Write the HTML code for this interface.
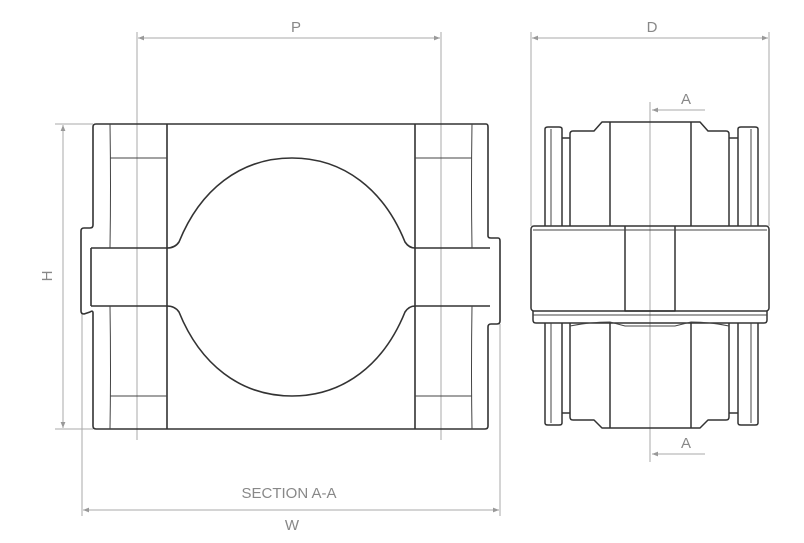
<!DOCTYPE html>
<html><head><style>html,body{margin:0;padding:0;background:#fff;width:804px;height:543px;overflow:hidden}</style></head>
<body>
<svg width="804" height="543" viewBox="0 0 804 543" xmlns="http://www.w3.org/2000/svg">
<defs>
<marker id="ar" viewBox="0 0 10 10" refX="10" refY="5" markerWidth="10" markerHeight="6" orient="auto-start-reverse" markerUnits="userSpaceOnUse"><path d="M0,1 L10,5 L0,9 z" fill="#999"/></marker>
</defs>
<g stroke="#aaa" stroke-width="1" fill="none">
<!-- P -->
<line x1="137" y1="32" x2="137" y2="440"/><line x1="441" y1="32" x2="441" y2="440"/>
<line x1="138" y1="38" x2="440" y2="38" marker-start="url(#ar)" marker-end="url(#ar)"/>
<!-- H -->
<line x1="55" y1="124" x2="93" y2="124"/><line x1="55" y1="429" x2="93" y2="429"/>
<line x1="63" y1="125" x2="63" y2="428" marker-start="url(#ar)" marker-end="url(#ar)"/>
<!-- W -->
<line x1="82" y1="314" x2="82" y2="516"/><line x1="500" y1="324" x2="500" y2="516"/>
<line x1="83" y1="510" x2="499" y2="510" marker-start="url(#ar)" marker-end="url(#ar)"/>
<!-- D -->
<line x1="531" y1="32" x2="531" y2="226"/><line x1="769" y1="32" x2="769" y2="226"/>
<line x1="532" y1="38" x2="768" y2="38" marker-start="url(#ar)" marker-end="url(#ar)"/>
<!-- center line -->
<line x1="650" y1="102" x2="650" y2="462"/>
<line x1="705" y1="110" x2="652" y2="110" marker-end="url(#ar)"/>
<line x1="705" y1="454" x2="652" y2="454" marker-end="url(#ar)"/>
</g>
<g font-family="Liberation Sans, sans-serif" fill="#888" font-size="15" text-anchor="middle">
<text x="296" y="32">P</text>
<text x="652" y="32">D</text>
<text x="289" y="498">SECTION A-A</text>
<text x="292" y="530">W</text>
<text x="686" y="104">A</text>
<text x="686" y="448">A</text>
<text transform="translate(52,276) rotate(-90)">H</text>
</g>
<g stroke="#333" stroke-width="1.6" fill="none" stroke-linejoin="round">
<!-- left view outline -->
<path d="M96,124 H486 Q488,124 488,127 V236 Q488,238 491,238 H498 Q500,238 500,241 V321 Q500,324 497,324 H491 Q488,324 488,327 V426 Q488,429 485,429 H96 Q93,429 93,426 V313 Q93,310 90,312 L84,314 Q81,314 81,311 V231 Q81,228 84,228 H90 Q93,228 93,225 V127 Q93,124 96,124 Z"/>
<path d="M91,248 H167 Q175,248 179,242 C200,190 240,158 292,158 C344,158 384,190 405,242 Q409,248 415,248 H490"/>
<path d="M91,306 H167 Q175,306 179,312 C200,364 240,396 292,396 C344,396 384,364 405,312 Q409,306 415,306 H490"/>
<path d="M91,248 V306"/>
<path d="M167,124 V429 M415,124 V429"/>
</g>
<g stroke="#444" stroke-width="1" fill="none">
<path d="M110,124 Q111,186 110,248 M110,306 Q111,368 110,429"/>
<path d="M472,124 Q471,186 472,248 M472,306 Q471,368 472,429"/>
<path d="M110,158 H167 M110,396 H167 M415,158 H472 M415,396 H472"/>
</g>
<!-- right view -->
<g stroke="#333" stroke-width="1.5" fill="none" stroke-linejoin="round">
<rect x="531" y="226" width="238" height="85" rx="3"/>
<path d="M533,311 V320 Q533,323 536,323 H764 Q767,323 767,320 V311"/>
<path d="M625,226 V311 H675 V226"/>
<!-- top body -->
<path d="M570,226 V134 Q570,131 573,131 H594 L602,122 H700 L708,131 H726 Q729,131 729,134 V226"/>
<path d="M610,122 V226 M691,122 V226"/>
<path d="M545,226 V129 Q545,127 548,127 H559 Q562,127 562,129 V226"/>
<path d="M738,226 V129 Q738,127 741,127 H755 Q758,127 758,129 V226"/>
<path d="M562,138 H570 M729,138 H738"/>
<!-- bottom body -->
<path d="M570,323 V417 Q570,420 573,420 H594 L602,428 H700 L708,420 H726 Q729,420 729,417 V323"/>
<path d="M610,323 V428 M691,323 V428"/>
<path d="M545,323 V423 Q545,425 548,425 H559 Q562,425 562,423 V323"/>
<path d="M738,323 V423 Q738,425 741,425 H755 Q758,425 758,423 V323"/>
<path d="M562,413 H570 M729,413 H738"/>
</g>
<g stroke="#444" stroke-width="1" fill="none">
<path d="M533,230 H767 M533,315 H767"/>
<path d="M570,326 Q590,322 610,322 L625,326 H675 L691,322 Q710,322 729,326"/>
<path d="M551,129 V226 M751,129 V226 M551,323 V423 M751,323 V423"/>
</g>
</svg>
</body></html>
